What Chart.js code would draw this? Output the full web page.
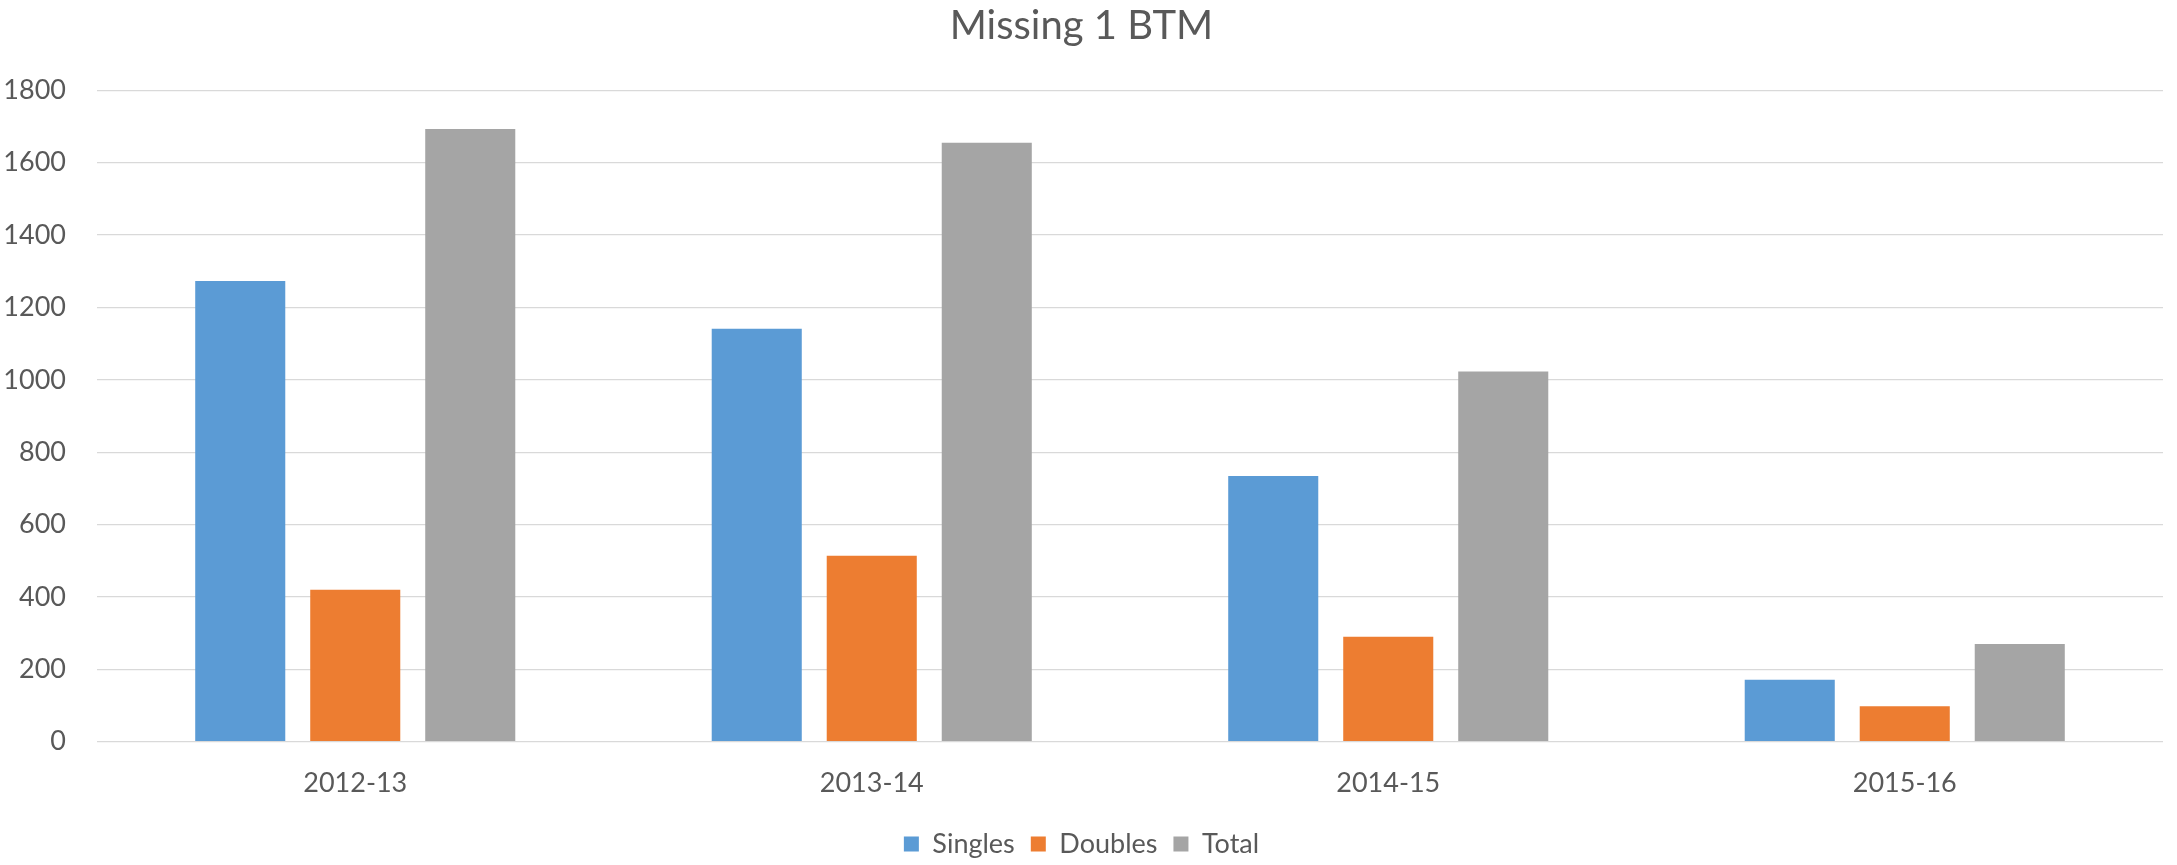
<!DOCTYPE html>
<html>
<head>
<meta charset="utf-8">
<title>Missing 1 BTM</title>
<script src="https://cdn.jsdelivr.net/npm/chart.js@4"></script>
<style>
  html, body { margin: 0; padding: 0; background: #fff; overflow: hidden; }
  #wrap { width: 2177px; height: 865px; position: relative; }
</style>
</head>
<body>
<div id="wrap"><canvas id="myChart"></canvas></div>
<script>
// chart data
const seasons = ["2012-13", "2013-14", "2014-15", "2015-16"];
const singles = [1273, 1141, 734, 171];
const doubles = [420, 514, 290, 98];
const total = [1693, 1655, 1023, 270];
const yTicks = [0, 200, 400, 600, 800, 1000, 1200, 1400, 1600, 1800];

const textColor = "#595959";
const gridColor = "#D9D9D9";
const fontFamily = "Lato, 'Open Sans', sans-serif";

Chart.defaults.font.family = fontFamily;
Chart.defaults.color = textColor;

const ctx = document.getElementById("myChart");
new Chart(ctx, {
  type: "bar",
  data: {
    labels: seasons,
    datasets: [
      { label: "Singles", data: singles, backgroundColor: "#5B9BD5" },
      { label: "Doubles", data: doubles, backgroundColor: "#ED7D31" },
      { label: "Total", data: total, backgroundColor: "#A5A5A5" },
    ],
  },
  options: {
    responsive: true,
    maintainAspectRatio: false,
    animation: false,
    categoryPercentage: 0.668,
    barPercentage: 0.783,
    layout: {
      padding: { top: 0, left: 0, right: 14, bottom: -2.5 },
    },
    scales: {
      x: {
        grid: { display: false, drawTicks: false },
        border: { display: false },
        ticks: { padding: 25, font: { size: 27 }, color: textColor },
        afterFit: function (scale) {
          scale.height = 72.8; // room between the axis and the legend
        },
      },
      y: {
        min: yTicks[0],
        max: yTicks[yTicks.length - 1],
        grid: { color: gridColor, lineWidth: 1.3, drawTicks: false },
        border: { display: false },
        ticks: {
          stepSize: yTicks[1] - yTicks[0],
          padding: 31,
          font: { size: 27 },
          color: textColor,
          callback: function (value) {
            return String(value); // no thousands separator
          },
        },
        afterFit: function (scale) {
          scale.width = 97;
        },
      },
    },
    plugins: {
      title: {
        display: true,
        text: "Missing 1 BTM",
        color: textColor,
        font: { size: 40, weight: "normal" },
        padding: { top: 2, bottom: 40.3 },
      },
      legend: {
        position: "bottom",
        labels: {
          boxWidth: 15,
          boxHeight: 15,
          padding: 16,
          color: textColor,
          font: { size: 27 },
        },
      },
      tooltip: { enabled: false },
    },
  },
});
</script>
</body>
</html>
